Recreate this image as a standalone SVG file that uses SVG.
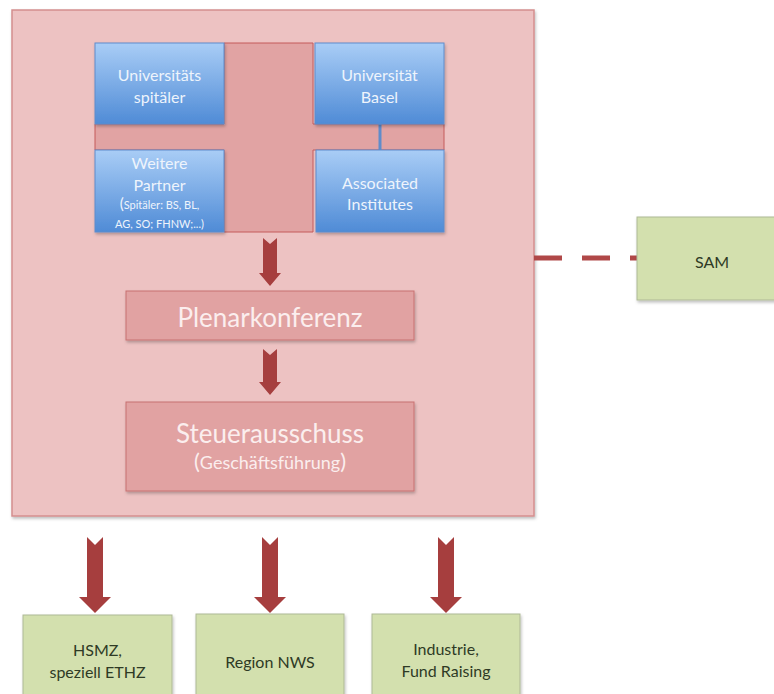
<svg xmlns="http://www.w3.org/2000/svg" width="774" height="694" viewBox="0 0 774 694">
<defs>
<linearGradient id="blueGrad" x1="0" y1="0" x2="0" y2="1">
<stop offset="0" stop-color="#a9cdf6"/>
<stop offset="1" stop-color="#4f8bd6"/>
</linearGradient>
<filter id="shadow" x="-10%" y="-10%" width="130%" height="130%">
<feDropShadow dx="1" dy="2" stdDeviation="1.5" flood-color="#000" flood-opacity="0.25"/>
</filter>
<style>
.frame{fill:#edc2c2;stroke:#d48e8e;stroke-width:1.5}
.cross{fill:#e1a3a3;stroke:#c45b5b;stroke-width:1}
.blue{fill:url(#blueGrad);stroke:#5f8ccb;stroke-width:1}
.pink{fill:#e1a2a2;stroke:#c77070;stroke-width:1}
.green{fill:#d3e0ae;stroke:#aeb996;stroke-width:1}
.arrow{fill:#a63e3e}
.tb{font-family:Lato,"Open Sans","Liberation Sans",sans-serif;fill:#eef4fc;text-anchor:middle}
.tp{font-family:Lato,"Open Sans","Liberation Sans",sans-serif;fill:#fbeeee;text-anchor:middle}
.tg{font-family:Lato,"Open Sans","Liberation Sans",sans-serif;fill:#2e3a25;text-anchor:middle;font-size:16px}
</style>
</defs>
<rect width="774" height="694" fill="#ffffff"/>
<g id="frame">
<rect class="frame" x="12" y="10" width="522" height="506" filter="url(#shadow)"/>
</g>
<g id="cross">
<path class="cross" d="M224,43 H313 V124 H444 V150 H313 V232 H224 V150 H95 V124 H224 Z"/>
</g>
<g id="connectors">
<line x1="380" y1="124" x2="380" y2="150" stroke="#5f8ccb" stroke-width="3"/>
<line x1="534" y1="258" x2="637" y2="258" stroke="#b04848" stroke-width="5" stroke-dasharray="28,20"/>
<path class="arrow" d="M263,238 L270,244 L277,238 L277,273 L281,273 L270,286 L259,273 L263,273 Z"/>
<path class="arrow" d="M263,349 L270,355 L277,349 L277,382 L281,382 L270,395 L259,382 L263,382 Z"/>
<path class="arrow" d="M87,537 L95,545 L103,537 L103,597 L111,597 L95,613 L79,597 L87,597 Z"/>
<path class="arrow" d="M262,537 L270,545 L278,537 L278,597 L286,597 L270,613 L254,597 L262,597 Z"/>
<path class="arrow" d="M438,537 L446,545 L454,537 L454,597 L462,597 L446,613 L430,597 L438,597 Z"/>
</g>
<g id="universitaetsspitaeler">
<rect class="blue" x="95" y="43" width="129" height="81" filter="url(#shadow)"/>
<text class="tb" x="159.5" y="81" font-size="16">Universitäts</text>
<text class="tb" x="159.5" y="103" font-size="16">spitäler</text>
</g>
<g id="universitaet-basel">
<rect class="blue" x="315" y="43" width="129" height="81" filter="url(#shadow)"/>
<text class="tb" x="379.5" y="81" font-size="16">Universität</text>
<text class="tb" x="379.5" y="103" font-size="16">Basel</text>
</g>
<g id="weitere-partner">
<rect class="blue" x="95" y="150" width="129" height="82" filter="url(#shadow)"/>
<text class="tb" x="159.5" y="169" font-size="16">Weitere</text>
<text class="tb" x="159.5" y="191" font-size="16">Partner</text>
<text class="tb" x="159.5" y="209" font-size="11"><tspan font-size="15">(</tspan>Spitäler: BS, BL,</text>
<text class="tb" x="159.5" y="228" font-size="11">AG, SO; FHNW;...)</text>
</g>
<g id="associated-institutes">
<rect class="blue" x="316" y="150" width="128" height="82" filter="url(#shadow)"/>
<text class="tb" x="380" y="189" font-size="16">Associated</text>
<text class="tb" x="380" y="210" font-size="16">Institutes</text>
</g>
<g id="plenarkonferenz">
<rect class="pink" x="126" y="291" width="288" height="49" filter="url(#shadow)"/>
<text class="tp" x="270" y="327" font-size="26">Plenarkonferenz</text>
</g>
<g id="steuerausschuss">
<rect class="pink" x="126" y="402" width="288" height="89" filter="url(#shadow)"/>
<text class="tp" x="270" y="443" font-size="26">Steuerausschuss</text>
<text class="tp" x="270" y="469" font-size="18"><tspan font-size="22">(</tspan>Geschäftsführung<tspan font-size="22">)</tspan></text>
</g>
<g id="sam">
<rect class="green" x="637" y="217" width="150" height="83" filter="url(#shadow)"/>
<text class="tg" x="712" y="268">SAM</text>
</g>
<g id="hsmz">
<rect class="green" x="23" y="615" width="149" height="90" filter="url(#shadow)"/>
<text class="tg" x="97.5" y="656">HSMZ,</text>
<text class="tg" x="97.5" y="678">speziell ETHZ</text>
</g>
<g id="region-nws">
<rect class="green" x="196" y="614" width="148" height="91" filter="url(#shadow)"/>
<text class="tg" x="270" y="668">Region NWS</text>
</g>
<g id="industrie">
<rect class="green" x="372" y="614" width="148" height="91" filter="url(#shadow)"/>
<text class="tg" x="446" y="655">Industrie,</text>
<text class="tg" x="446" y="677">Fund Raising</text>
</g>
</svg>
